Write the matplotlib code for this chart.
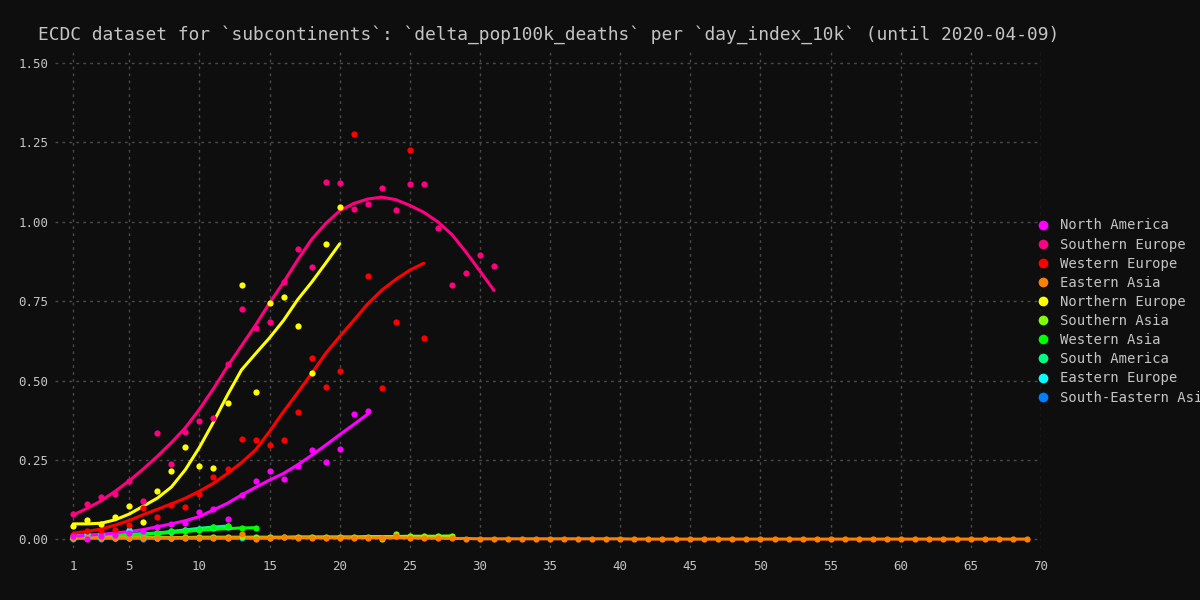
import matplotlib
matplotlib.use("Agg")
import matplotlib.pyplot as plt
from matplotlib.lines import Line2D

# ---------------- data ----------------
regions = ["North America", "Southern Europe", "Western Europe", "Eastern Asia",
           "Northern Europe", "Southern Asia", "Western Asia", "South America",
           "Eastern Europe", "South-Eastern Asia"]
colors = ["#ff00ff", "#ff0080", "#ff0000", "#ff8000", "#ffff00",
          "#80ff00", "#00ff00", "#00ff80", "#00ffff", "#0080ff"]

# observed points (day_index 1..n)
na_pts = [0.010, 0.000, 0.010, 0.015, 0.020, 0.025, 0.040, 0.048, 0.051, 0.086, 0.096,
          0.065, 0.139, 0.183, 0.216, 0.191, 0.232, 0.282, 0.243, 0.285, 0.395, 0.403]
se_pts = [0.079, 0.111, 0.133, 0.143, 0.184, 0.120, 0.334, 0.236, 0.339, 0.372, 0.383,
          0.553, 0.725, 0.667, 0.685, 0.812, 0.916, 0.857, 1.127, 1.121, 1.041, 1.055,
          1.108, 1.036, 1.120, 1.120, 0.982, 0.800, 0.838, 0.896, 0.861]
we_pts = [0.015, 0.027, 0.025, 0.030, 0.045, 0.100, 0.070, 0.109, 0.103, 0.143, 0.196,
          0.223, 0.316, 0.312, 0.298, 0.312, 0.400, 0.571, 0.479, 0.529, 1.276, 0.830,
          0.477, 0.686, 1.226, 0.633]
ea_pts = [0.004, 0.005, 0.004, 0.005, 0.005, 0.004, 0.005, 0.004, 0.005, 0.005, 0.005,
          0.005, 0.016, 0.002, 0.005, 0.008, 0.005, 0.005, 0.005, 0.005, 0.005, 0.005,
          0.003, 0.011, 0.004, 0.004, 0.003, 0.003, 0.002, 0.002, 0.002, 0.002, 0.002,
          0.002, 0.002, 0.002, 0.001, 0.001, 0.001, 0.001, 0.001, 0.001, 0.001, 0.001,
          0.001, 0.001, 0.001, 0.001, 0.001, 0.001, 0.001, 0.001, 0.001, 0.001, 0.001,
          0.001, 0.001, 0.001, 0.001, 0.001, 0.001, 0.001, 0.001, 0.001, 0.001, 0.001,
          0.001, 0.001, 0.001]
ne_pts = [0.043, 0.061, 0.048, 0.070, 0.105, 0.054, 0.153, 0.217, 0.292, 0.231, 0.224,
          0.431, 0.800, 0.465, 0.746, 0.765, 0.673, 0.523, 0.931, 1.047]
sa_pts = [0.005, 0.006, 0.006, 0.006, 0.006, 0.006, 0.006, 0.006, 0.007, 0.007, 0.007,
          0.007, 0.007, 0.007, 0.008, 0.008, 0.008, 0.008, 0.008, 0.009, 0.009, 0.009,
          0.000, 0.016, 0.012, 0.010, 0.012, 0.011]
wa_pts = [0.006, 0.008, 0.010, 0.012, 0.014, 0.016, 0.020, 0.025, 0.028, 0.031, 0.040,
          0.043, 0.035, 0.037]
sam_pts = [0.004, 0.006, 0.008, 0.010, 0.012, 0.015, 0.020, 0.028, 0.030, 0.033, 0.040,
           0.043]
ee_pts = [0.012, 0.016, 0.016, 0.012, 0.030, 0.011, 0.015, 0.024, 0.030, 0.032, 0.036,
          0.038]
sea_pts = [0.002, 0.003, 0.002, 0.003, 0.003, 0.002, 0.003, 0.003, 0.004, 0.003, 0.004,
           0.003, 0.004, 0.004, 0.004]

# smoothed trend values (day_index 1..n)
na_fit = [0.010, 0.013, 0.016, 0.020, 0.025, 0.031, 0.040, 0.049, 0.059, 0.072, 0.093,
          0.114, 0.140, 0.164, 0.187, 0.208, 0.235, 0.265, 0.297, 0.330, 0.362, 0.395]
se_fit = [0.077, 0.098, 0.122, 0.152, 0.185, 0.222, 0.262, 0.305, 0.352, 0.410, 0.475,
          0.545, 0.610, 0.675, 0.745, 0.810, 0.880, 0.945, 0.995, 1.035, 1.058, 1.072,
          1.078, 1.070, 1.052, 1.030, 1.000, 0.960, 0.905, 0.845, 0.784]
we_fit = [0.020, 0.025, 0.033, 0.045, 0.060, 0.078, 0.095, 0.112, 0.130, 0.152, 0.177,
          0.208, 0.242, 0.282, 0.340, 0.403, 0.462, 0.523, 0.586, 0.639, 0.690, 0.742,
          0.785, 0.819, 0.848, 0.870]
ea_fit = [0.005] * 25 + [0.004, 0.004, 0.003, 0.003, 0.002] + [0.002] * 10 + [0.001] * 29
ne_fit = [0.049, 0.049, 0.051, 0.062, 0.080, 0.105, 0.130, 0.165, 0.220, 0.290, 0.370,
          0.455, 0.534, 0.585, 0.635, 0.690, 0.755, 0.810, 0.870, 0.931]
sa_fit = [0.006, 0.006, 0.006, 0.006, 0.006, 0.006, 0.006, 0.006, 0.006, 0.007, 0.007,
          0.007, 0.007, 0.007, 0.007, 0.007, 0.008, 0.008, 0.008, 0.008, 0.008, 0.009,
          0.009, 0.009, 0.010, 0.010, 0.010, 0.011]
wa_fit = [0.006, 0.008, 0.010, 0.012, 0.014, 0.016, 0.019, 0.022, 0.025, 0.029, 0.032,
          0.034, 0.036, 0.037]
sam_fit = [0.005, 0.007, 0.009, 0.011, 0.013, 0.016, 0.020, 0.025, 0.030, 0.035, 0.039,
           0.042]
ee_fit = [0.012, 0.013, 0.014, 0.015, 0.016, 0.018, 0.020, 0.023, 0.027, 0.030, 0.033,
          0.036]
sea_fit = [0.003] * 15

points = [na_pts, se_pts, we_pts, ea_pts, ne_pts, sa_pts, wa_pts, sam_pts, ee_pts, sea_pts]
fits = [na_fit, se_fit, we_fit, ea_fit, ne_fit, sa_fit, wa_fit, sam_fit, ee_fit, sea_fit]

x_ticks = [1, 5, 10, 15, 20, 25, 30, 35, 40, 45, 50, 55, 60, 65, 70]
y_ticks = [0.0, 0.25, 0.5, 0.75, 1.0, 1.25, 1.5]
title = "ECDC dataset for `subcontinents`: `delta_pop100k_deaths` per `day_index_10k` (until 2020-04-09)"

# ---------------- style ----------------
BG = "#0e0e0e"
TXT = "#c4c4c4"
plt.rcParams["font.family"] = ["DejaVu Sans Mono", "DejaVu Sans"]

fig = plt.figure(figsize=(12, 6), dpi=100, facecolor=BG)
ax = fig.add_axes([55 / 1200, 1 - 548 / 600, 986 / 1200, 496 / 600])
ax.set_facecolor(BG)

for i in reversed(range(len(regions))):
    pts = points[i]
    fit = fits[i]
    ax.plot(range(1, len(fit) + 1), fit, color=colors[i], lw=2.2,
            solid_capstyle="round", zorder=3)
    ax.plot(range(1, len(pts) + 1), pts, linestyle="none", marker="o",
            markersize=4.5, markeredgewidth=0, color=colors[i], zorder=4)

ax.set_xlim(-0.3, 70.0)
ax.set_ylim(-0.027, 1.535)
ax.set_xticks(x_ticks)
ax.set_yticks(y_ticks)
ax.set_yticklabels([f"{v:.2f}" for v in y_ticks])
ax.tick_params(colors=TXT, labelsize=9, length=0, pad=5)
ax.tick_params(axis="x", pad=9)
for s in ax.spines.values():
    s.set_visible(False)
ax.grid(True, color="#4a4a4a", linestyle=(0, (2, 3)), linewidth=1)
ax.set_axisbelow(True)

fig.text(38 / 1200, 1 - 35 / 600, title, color=TXT, fontsize=12.9,
         ha="left", va="center")

handles = [Line2D([0], [0], linestyle="none", marker="o", markersize=7,
                  markeredgewidth=0, color=c) for c in colors]
leg = fig.legend(handles, regions, loc="center left",
                 bbox_to_anchor=(1039 / 1200, 1 - 311.5 / 600),
                 frameon=False, fontsize=10, labelcolor=TXT,
                 handlelength=0.6, handletextpad=0.9, labelspacing=0.37,
                 borderaxespad=0, borderpad=0)

fig.savefig("out.png", dpi=100, facecolor=BG)
